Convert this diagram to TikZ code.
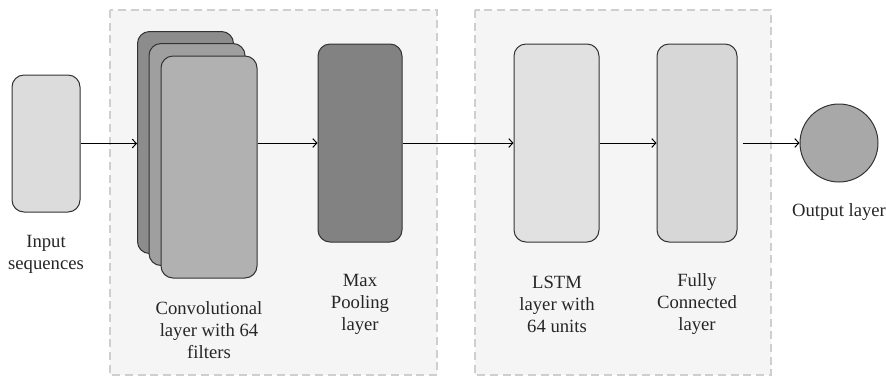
\documentclass[tikz,border=0pt]{standalone}
\usepackage{fontspec}
\setmainfont{Liberation Serif}
\usetikzlibrary{arrows.meta}
\definecolor{grpfill}{HTML}{F5F5F5}
\definecolor{grpline}{HTML}{CFCFCF}
\definecolor{infill}{HTML}{DCDCDC}
\definecolor{convA}{HTML}{8C8C8C}
\definecolor{convB}{HTML}{9F9F9F}
\definecolor{convC}{HTML}{B1B1B1}
\definecolor{poolfill}{HTML}{828282}
\definecolor{lstmfill}{HTML}{E1E1E1}
\definecolor{fcfill}{HTML}{D7D7D7}
\definecolor{outfill}{HTML}{A8A8A8}

\begin{document}
\begin{tikzpicture}[x=0.75pt,y=-0.75pt,>={Straight Barb[length=3pt,width=6.5pt]},
	layer/.style={draw=black!80,line width=0.75pt,rounded corners=9pt},
	group/.style={draw=grpline,fill=grpfill,line width=1.5pt,dash pattern=on 6pt off 3.5pt},
	lbl/.style={align=center,text=black!85,font=\fontsize{14}{16.5}\selectfont}]
		\useasboundingbox (0,0) rectangle (886,376);
		\draw[group] (110,10) rectangle (437,375);
		\draw[group] (475,10) rectangle (771,375);
		% layers
		\node[layer,fill=infill,minimum width=51pt,minimum height=102.75pt] (in) at (46,143.5) {};
		\node[layer,fill=convA,minimum width=72pt,minimum height=166.5pt] (conv1) at (185.5,142.5) {};
		\node[layer,fill=convB,minimum width=72pt,minimum height=166.5pt] (conv2) at (197,154.5) {};
		\node[layer,fill=convC,minimum width=72pt,minimum height=166.5pt] (conv3) at (209,167) {};
		\node[layer,fill=poolfill,minimum width=63pt,minimum height=148.5pt] (pool) at (360,143) {};
		\node[layer,fill=lstmfill,minimum width=63.75pt,minimum height=148.5pt] (lstm) at (556.5,143) {};
		\node[layer,fill=fcfill,minimum width=60pt,minimum height=148.5pt] (fc) at (697,143) {};
		\node[circle,draw=black!80,line width=0.75pt,fill=outfill,minimum size=58.5pt] (out) at (839,143) {};
		% labels
		\node[lbl] (inlbl) at (46,254) {Input\\sequences};
		\node[lbl] (convlbl) at (209,330) {Convolutional\\layer with 64\\filters};
		\node[lbl] (poollbl) at (360,304) {Max\\Pooling\\layer};
		\node[lbl] (lstmlbl) at (557,304) {LSTM\\layer with\\64 units};
		\node[lbl] (fclbl) at (697,304) {Fully\\Connected\\layer};
		\node[lbl] (outlbl) at (839,212) {Output layer};
		% arrows
		\draw[->,line width=0.75pt] (in.east) -- (in.east -| conv1.west);
		\draw[->,line width=0.75pt] (conv3.east |- pool) -- (pool);
		\draw[->,line width=0.75pt] (pool) -- (lstm);
		\draw[->,line width=0.75pt] (lstm) -- (fc);
		\draw[->,line width=0.75pt] ([xshift=3.75pt]fc.east) -- (out);
\end{tikzpicture}
\end{document}
